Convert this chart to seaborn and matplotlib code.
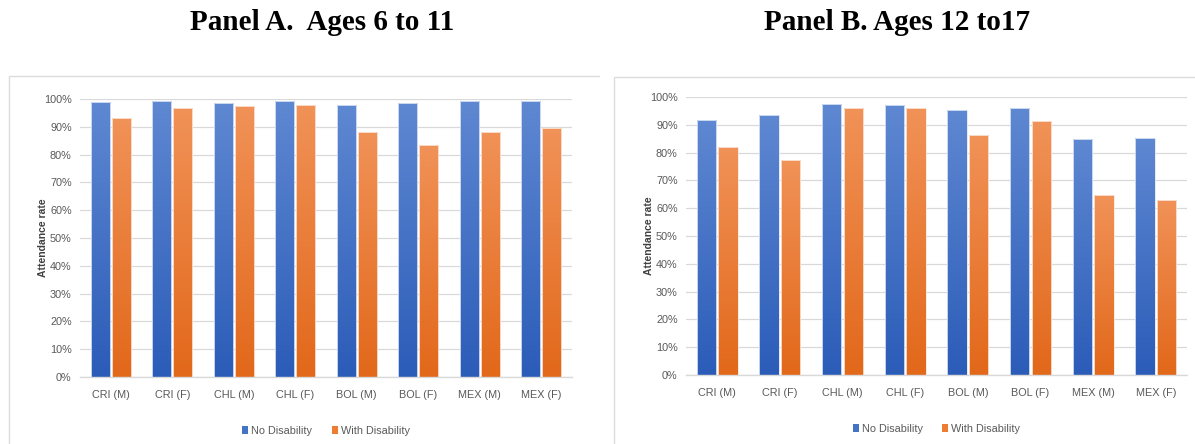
import numpy as np
import pandas as pd
import matplotlib
matplotlib.use("Agg")
import matplotlib.pyplot as plt
import seaborn as sns
from matplotlib.patches import Patch, Rectangle
from matplotlib.lines import Line2D
from matplotlib.ticker import PercentFormatter, MultipleLocator
from matplotlib.colors import LinearSegmentedColormap

# ---- data -------------------------------------------------------------
categories = ["CRI (M)", "CRI (F)", "CHL (M)", "CHL (F)",
              "BOL (M)", "BOL (F)", "MEX (M)", "MEX (F)"]
series_names = ["No Disability", "With Disability"]

ages_6_11_no = [0.991, 0.994, 0.984, 0.994, 0.980, 0.986, 0.994, 0.994]
ages_6_11_with = [0.933, 0.969, 0.976, 0.980, 0.882, 0.836, 0.882, 0.894]

ages_12_17_no = [0.919, 0.937, 0.974, 0.972, 0.955, 0.961, 0.848, 0.854]
ages_12_17_with = [0.821, 0.772, 0.959, 0.959, 0.863, 0.912, 0.647, 0.629]

panel_titles = ["Panel A.  Ages 6 to 11", "Panel B. Ages 12 to17"]
y_label = "Attendance rate"

# ---- style ------------------------------------------------------------
sns.set_theme(style="white")
plt.rcParams["font.family"] = ["Liberation Sans Narrow", "Liberation Sans", "DejaVu Sans"]

TEXT_GREY = "#595959"
GRID_GREY = "#d9d9d9"
FRAME_GREY = "#dcdcdc"
solid = {"No Disability": "#4472c4", "With Disability": "#ed7d31"}
gradients = {
    "No Disability": ("#2b5cb8", "#5f88d2"),    # bottom, top
    "With Disability": ("#e2681a", "#f19258"),
}


def make_frame(no_vals, with_vals):
    return pd.DataFrame({
        "category": categories * 2,
        "series": [series_names[0]] * len(categories) + [series_names[1]] * len(categories),
        "rate": list(no_vals) + list(with_vals),
    })


def gradient_fill(ax, series_of_patch):
    """Replace flat bar fills with a vertical gradient clipped to each bar."""
    grad = np.linspace(0, 1, 256).reshape(-1, 1)
    for patch, name in zip(ax.patches, series_of_patch):
        x0, y0 = patch.get_x(), patch.get_y()
        w, h = patch.get_width(), patch.get_height()
        if h <= 0:
            continue
        cmap = LinearSegmentedColormap.from_list(name, gradients[name])
        im = ax.imshow(grad, cmap=cmap, origin="lower", aspect="auto",
                       extent=[x0, x0 + w, y0, y0 + h], zorder=2,
                       interpolation="bicubic")
        im.set_clip_path(patch)
        patch.set_facecolor("none")
        patch.set_edgecolor("#fbe9dd" if name == "With Disability" else "#dfe7f5")
        patch.set_linewidth(0.6)
        patch.set_zorder(3)


def draw_panel(ax, df):
    sns.barplot(data=df, x="category", y="rate", hue="series",
                palette=solid, width=0.69, gap=0.1, dodge=True,
                errorbar=None, legend=False, ax=ax, zorder=2)
    # patches are ordered by hue level, then by category
    order = [series_names[0]] * len(categories) + [series_names[1]] * len(categories)
    gradient_fill(ax, order)

    ax.set_xlim(-0.5, len(categories) - 0.5)
    ax.set_ylim(0, 1.0)
    ax.yaxis.set_major_locator(MultipleLocator(0.1))
    ax.yaxis.set_major_formatter(PercentFormatter(1.0, decimals=0))
    ax.grid(axis="y", color=GRID_GREY, linewidth=0.9, zorder=0)
    ax.set_axisbelow(True)
    for side in ["top", "right", "left"]:
        ax.spines[side].set_visible(False)
    ax.spines["bottom"].set_color(GRID_GREY)
    ax.spines["bottom"].set_linewidth(1.0)
    ax.tick_params(axis="both", length=0, labelsize=7.8, colors=TEXT_GREY)
    ax.tick_params(axis="y", pad=6)
    ax.tick_params(axis="x", pad=9)
    ax.set_xlabel("")
    ax.set_ylabel(y_label, fontsize=7.5, fontweight="bold", color="#404040",
                  family=["Liberation Sans", "DejaVu Sans"], labelpad=-3)

    handles = [Patch(facecolor=solid[n], edgecolor="none", label=n) for n in series_names]
    ax.legend(handles=handles, loc="upper center", bbox_to_anchor=(0.5, -0.14),
              ncol=2, frameon=False, fontsize=7.8, handlelength=0.55,
              handleheight=0.75, handletextpad=0.3, columnspacing=1.8,
              labelcolor=TEXT_GREY)


W, H = 1195, 444
fig = plt.figure(figsize=(W / 100, H / 100), dpi=100)
fig.patch.set_facecolor("white")

# chart frames (left panel: top and left edges only; right panel: full box)
fig.add_artist(Line2D([9 / W, 9 / W, 599 / W], [0, 1 - 76 / H, 1 - 76 / H],
                      transform=fig.transFigure, color=FRAME_GREY, linewidth=1.0))
fig.add_artist(Rectangle((614 / W, -0.01), (1200 - 614) / W, 1 - 77 / H + 0.01,
                         transform=fig.transFigure, fill=False,
                         edgecolor=FRAME_GREY, linewidth=1.0))

ax_a = fig.add_axes([80 / W, 1 - 377 / H, (572 - 80) / W, (377 - 99) / H])
ax_b = fig.add_axes([686 / W, 1 - 375 / H, (1187 - 686) / W, (375 - 97) / H])

draw_panel(ax_a, make_frame(ages_6_11_no, ages_6_11_with))
draw_panel(ax_b, make_frame(ages_12_17_no, ages_12_17_with))

title_font = dict(family=["Liberation Serif", "DejaVu Serif"], fontweight="bold",
                  fontsize=21, color="black", ha="center", va="center")
fig.text(322 / W, 1 - 22 / H, panel_titles[0], **title_font)
fig.text(897 / W, 1 - 22 / H, panel_titles[1], **title_font)

fig.savefig("out.png", dpi=100, facecolor="white")
